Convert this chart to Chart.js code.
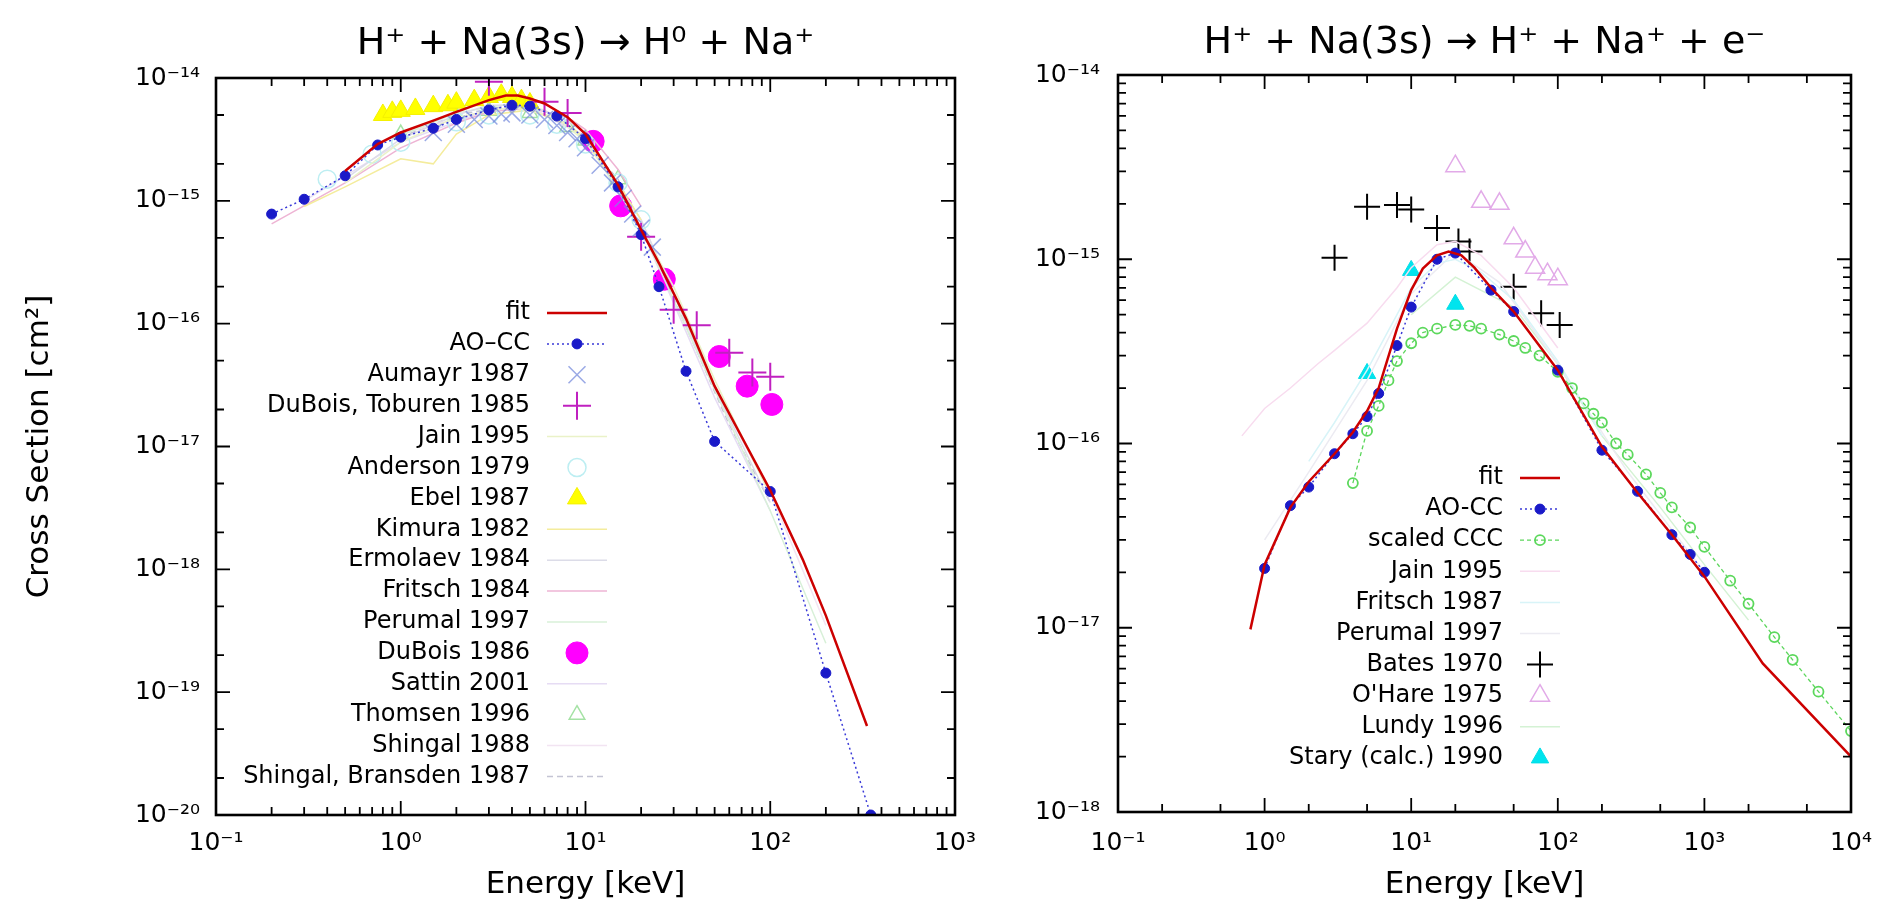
<!DOCTYPE html>
<html>
<head>
<meta charset="utf-8">
<script src="https://cdn.jsdelivr.net/npm/chart.js@4.4.1/dist/chart.umd.min.js"></script>
<style>
  html, body { margin: 0; padding: 0; background: #fff; width: 1885px; height: 904px; overflow: hidden; }
  #left { position: absolute; left: 0; top: 0; }
  #right { position: absolute; left: 1000px; top: 0; }
</style>
</head>
<body>
<canvas id="left" width="1000" height="904"></canvas>
<canvas id="right" width="885" height="904"></canvas>
<script>
const FONT = "'DejaVu Sans', 'Liberation Sans', sans-serif";

// axis ticks
const leftXTicks = [1e-1, 1e0, 1e1, 1e2, 1e3];
const leftYTicks = [1e-20, 1e-19, 1e-18, 1e-17, 1e-16, 1e-15, 1e-14];
const rightXTicks = [1e-1, 1e0, 1e1, 1e2, 1e3, 1e4];
const rightYTicks = [1e-18, 1e-17, 1e-16, 1e-15, 1e-14];
const leftXMinor = [2, 3, 4, 5, 6, 7, 8, 9];
const leftYMinor = [2, 5];
const rightXMinor = [2, 5];
const rightYMinor = [2, 3, 4, 5, 6, 7, 8, 9];

// ---- left panel: H+ + Na(3s) -> H0 + Na+  ([energy keV, cross section cm2])
const fitL = [[0.5,1.75e-15],[0.75,2.9e-15],[1,3.6e-15],[1.5,4.5e-15],[2,5.3e-15],[3,6.6e-15],[3.7,7.2e-15],[4.3,7.2e-15],[5,6.8e-15],[6,6.2e-15],[8,4.8e-15],[10,3.5e-15],[15,1.35e-15],[20,5.8e-16],[25,3.1e-16],[35,1.1e-16],[50,3.1e-17],[70,1.2e-17],[100,4.4e-18],[150,1.2e-18],[200,4.2e-19],[334,5.3e-20]];
const aoccL = [[0.2,7.8e-16],[0.3,1.03e-15],[0.5,1.6e-15],[0.75,2.85e-15],[1,3.3e-15],[1.5,3.9e-15],[2,4.6e-15],[3,5.5e-15],[4,6.0e-15],[5,5.9e-15],[7,4.9e-15],[10,3.2e-15],[15,1.3e-15],[20,5.3e-16],[25,2.0e-16],[35,4.1e-17],[50,1.1e-17],[100,4.3e-18],[200,1.43e-19],[350,1.0e-20]];
const aumayr = [[1.5,3.6e-15],[2,4.2e-15],[2.5,4.6e-15],[3,4.9e-15],[3.5,5.1e-15],[4,5.2e-15],[5,5.0e-15],[6,4.6e-15],[7,4.1e-15],[8,3.6e-15],[9,3.2e-15],[10,2.7e-15],[12,1.95e-15],[14,1.4e-15],[16,1.05e-15],[18,7.8e-16],[20,6.0e-16],[23,4.2e-16]];
const duboisToburen = [[3,9.3e-15],[6,6.4e-15],[8,5.2e-15],[20,5.1e-16],[30,1.3e-16],[40,9.7e-17],[60,5.8e-17],[80,4.0e-17],[100,3.7e-17]];
const jainL = [[0.5,1.4e-15],[1,3.0e-15],[2,4.8e-15],[4,5.8e-15],[7,4.8e-15],[10,3.0e-15],[15,1.3e-15],[20,6.0e-16],[30,2.0e-16],[50,3.5e-17],[100,4.0e-18]];
const anderson = [[0.4,1.5e-15],[0.7,2.4e-15],[1,3.0e-15],[2,4.4e-15],[3,5.0e-15],[5,5.0e-15],[7,4.2e-15],[10,2.9e-15],[15,1.4e-15],[20,7.0e-16]];
const ebel = [[0.8,5.0e-15],[0.9,5.3e-15],[1,5.4e-15],[1.2,5.6e-15],[1.5,5.9e-15],[1.8,6.0e-15],[2,6.3e-15],[2.5,6.6e-15],[3,7.0e-15],[3.5,7.3e-15],[4,7.0e-15],[4.5,6.6e-15],[5,6.2e-15]];
const kimura = [[0.3,9.0e-16],[0.5,1.3e-15],[1,2.2e-15],[1.5,2.0e-15],[2,3.5e-15],[3,5.0e-15],[5,5.5e-15],[8,4.2e-15],[10,3.2e-15],[15,1.4e-15],[20,7.0e-16]];
const ermolaev = [[0.5,1.5e-15],[1,3.2e-15],[2,5.0e-15],[3,6.0e-15],[5,6.0e-15],[8,4.5e-15],[10,3.5e-15],[20,7.0e-16],[50,3.0e-17],[100,3.5e-18]];
const fritsch84 = [[0.2,6.5e-16],[0.5,1.4e-15],[1,2.7e-15],[2,4.3e-15],[3,5.3e-15],[5,5.7e-15],[8,4.8e-15],[10,3.8e-15],[15,1.8e-15],[20,9.0e-16]];
const perumalL = [[1,3.4e-15],[2,5.2e-15],[4,6.2e-15],[6,5.5e-15],[10,3.2e-15],[20,6.0e-16],[40,6.0e-17],[100,3.0e-18],[200,2.5e-19]];
const dubois86 = [[11,3.05e-15],[15.5,9.1e-16],[26.7,2.3e-16],[53,5.4e-17],[75,3.1e-17],[102,2.2e-17]];
const sattin = [[0.3,1.0e-15],[1,3.0e-15],[3,5.5e-15],[5,5.8e-15],[10,3.3e-15],[20,6.0e-16],[50,2.5e-17],[100,3.0e-18]];
const thomsen = [[1,3.5e-15],[2,4.9e-15],[3,5.4e-15],[5,5.2e-15],[8,4.0e-15],[10,3.1e-15],[15,1.5e-15]];
const shingal88 = [[1,3.5e-15],[3,5.5e-15],[5,5.8e-15],[10,3.4e-15],[20,7.0e-16],[50,3.0e-17],[100,4.2e-18],[200,3.5e-19]];
const shingalBransden = [[1,3.3e-15],[2,5.0e-15],[4,6.0e-15],[8,4.3e-15],[15,1.5e-15],[30,1.6e-16],[60,1.5e-17],[100,3.5e-18]];

// ---- right panel: H+ + Na(3s) -> H+ + Na+ + e-
const fitR = [[0.8,9.8e-18],[0.9,1.5e-17],[1,2.2e-17],[1.5,4.5e-17],[2,6.2e-17],[3,8.8e-17],[4,1.15e-16],[5,1.5e-16],[6,2.0e-16],[8,4.2e-16],[10,6.8e-16],[12,8.9e-16],[15,1.05e-15],[18,1.1e-15],[22,1.05e-15],[27,9.0e-16],[35,7.0e-16],[50,5.2e-16],[100,2.5e-16],[200,9.6e-17],[350,5.4e-17],[600,3.2e-17],[1000,1.9e-17],[2500,6.4e-18],[10000,2.0e-18]];
const aoccR = [[1,2.1e-17],[1.5,4.6e-17],[2,5.8e-17],[3,8.8e-17],[4,1.13e-16],[5,1.4e-16],[6,1.87e-16],[8,3.4e-16],[10,5.5e-16],[15,1.0e-15],[20,1.08e-15],[35,6.8e-16],[50,5.2e-16],[100,2.5e-16],[200,9.2e-17],[350,5.5e-17],[600,3.2e-17],[800,2.5e-17],[1000,2.0e-17]];
const scaledCCC = [[4,6.1e-17],[5,1.17e-16],[6,1.6e-16],[7,2.2e-16],[8,2.8e-16],[10,3.5e-16],[12,4.0e-16],[15,4.2e-16],[20,4.4e-16],[25,4.35e-16],[30,4.2e-16],[40,3.9e-16],[50,3.6e-16],[60,3.3e-16],[75,3.0e-16],[100,2.45e-16],[125,2.0e-16],[150,1.65e-16],[175,1.45e-16],[200,1.3e-16],[250,1.0e-16],[300,8.7e-17],[400,6.8e-17],[500,5.4e-17],[600,4.5e-17],[800,3.5e-17],[1000,2.75e-17],[1500,1.8e-17],[2000,1.35e-17],[3000,8.9e-18],[4000,6.7e-18],[6000,4.5e-18],[10000,2.75e-18]];
const jainR = [[0.7,1.1e-16],[1,1.55e-16],[1.5,2.0e-16],[2.3,2.7e-16],[3,3.2e-16],[5,4.5e-16],[8,7.0e-16],[10,9.0e-16],[15,1.2e-15],[20,1.25e-15],[30,1.05e-15],[50,7.0e-16],[100,3.3e-16]];
const fritsch87 = [[2,8.0e-17],[3,1.3e-16],[5,2.5e-16],[8,5.0e-16],[10,7.0e-16],[15,9.5e-16],[20,1.0e-15],[30,8.5e-16],[50,6.0e-16],[100,2.8e-16],[200,1.1e-16]];
const perumalR = [[1,3.0e-17],[2,7.0e-17],[5,2.2e-16],[10,6.5e-16],[20,1.1e-15],[40,7.5e-16],[100,2.7e-16],[300,7.0e-17],[1000,2.0e-17]];
const bates = [[3,1.02e-15],[5,1.93e-15],[8,1.97e-15],[10,1.86e-15],[15,1.48e-15],[21,1.25e-15],[25,1.1e-15],[50,7.1e-16],[77,5.1e-16],[103,4.4e-16]];
const ohare = [[20,3.2e-15],[30,2.05e-15],[40,2.0e-15],[50,1.3e-15],[60,1.1e-15],[70,9.0e-16],[85,8.3e-16],[100,7.8e-16]];
const lundy = [[10,5.0e-16],[20,8.0e-16],[50,5.5e-16],[100,2.7e-16],[200,1.1e-16],[500,4.5e-17],[1000,2.2e-17],[2000,1.1e-17]];
const stary = [[5,2.4e-16],[10,8.7e-16],[20,5.7e-16]];

const toXY = arr => arr.map(([x, y]) => ({x, y}));

function lineDs(label, data, color, width, dash) {
  return {label, data: toXY(data), showLine: true, borderColor: color, backgroundColor: color,
          borderWidth: width, borderDash: dash || [], pointRadius: 0, pointHoverRadius: 0, tension: 0};
}
function markDs(label, data, style, r, stroke, fill, bw) {
  return {label, data: toXY(data), showLine: false, pointStyle: style, pointRadius: r, pointHoverRadius: r,
          pointBorderColor: stroke, pointBackgroundColor: fill, pointBorderWidth: bw,
          borderColor: stroke, backgroundColor: fill};
}
function withPoints(ds, style, r, stroke, fill, bw) {
  return Object.assign(ds, {pointStyle: style, pointRadius: r, pointHoverRadius: r,
          pointBorderColor: stroke, pointBackgroundColor: fill, pointBorderWidth: bw});
}

const NONE = 'rgba(0,0,0,0)';
const RED = '#cc0000';
const BLUE = '#1a1ac8';

const leftSets = [
  lineDs('fit', fitL, RED, 2.5),
  withPoints(lineDs('AO\u2013CC', aoccL, '#3a3ad8', 1.5, [2, 3]), 'circle', 5, BLUE, BLUE, 1),
  markDs('Aumayr 1987', aumayr, 'crossRot', 12, 'rgba(120,140,220,0.75)', NONE, 1.5),
  markDs('DuBois, Toburen 1985', duboisToburen, 'cross', 14, '#c020c0', NONE, 2),
  lineDs('Jain 1995', jainL, '#eaf2c8', 1.5),
  markDs('Anderson 1979', anderson, 'circle', 9, '#bdeef2', NONE, 1.5),
  markDs('Ebel 1987', ebel, 'triangle', 11, '#f4f000', '#ffff00', 1),
  lineDs('Kimura 1982', kimura, '#f4ec9c', 1.5),
  lineDs('Ermolaev 1984', ermolaev, '#dcdce8', 1.5),
  lineDs('Fritsch 1984', fritsch84, '#eeb4d4', 1.5),
  lineDs('Perumal 1997', perumalL, '#d8f0d8', 1.5),
  markDs('DuBois 1986', dubois86, 'circle', 11, '#ff00ff', '#ff00ff', 1),
  lineDs('Sattin 2001', sattin, '#e6dcf4', 1.5),
  markDs('Thomsen 1996', thomsen, 'triangle', 9, '#a4e2a4', NONE, 1.5),
  lineDs('Shingal 1988', shingal88, '#f2e4f2', 1.5),
  lineDs('Shingal, Bransden 1987', shingalBransden, '#c4c4d4', 1.5, [6, 4])
];

const rightSets = [
  lineDs('fit', fitR, RED, 2.5),
  withPoints(lineDs('AO-CC', aoccR, '#3a3ad8', 1.5, [2, 3]), 'circle', 5, BLUE, BLUE, 1),
  withPoints(lineDs('scaled CCC', scaledCCC, '#5cd65c', 1.3, [4, 3]), 'circle', 5, '#5cd85c', NONE, 1.8),
  lineDs('Jain 1995', jainR, '#f8dcef', 1.5),
  lineDs('Fritsch 1987', fritsch87, '#d8f4f8', 1.5),
  lineDs('Perumal 1997', perumalR, '#ecebf2', 1.5),
  markDs('Bates 1970', bates, 'cross', 13, '#000000', NONE, 2),
  markDs("O'Hare 1975", ohare, 'triangle', 11, '#e2aae8', NONE, 1.5),
  lineDs('Lundy 1996', lundy, '#d4f2d4', 1.5),
  markDs('Stary (calc.) 1990', stary, 'triangle', 10, '#00dde6', '#00e4ee', 1)
];

const SUP = {'-': '\u207B', '0': '\u2070', '1': '\u00B9', '2': '\u00B2', '3': '\u00B3', '4': '\u2074',
             '5': '\u2075', '6': '\u2076', '7': '\u2077', '8': '\u2078', '9': '\u2079'};
function powLabel(v) {
  const e = Math.round(Math.log10(v));
  return '10' + String(e).split('').map(c => SUP[c]).join('');
}

function logAxis(pos, min, max, ticks, size, pad, title) {
  return {
    type: 'logarithmic', position: pos, min, max,
    grid: {display: false, drawTicks: false},
    border: {display: false},
    afterBuildTicks: s => { s.ticks = ticks.map(v => ({value: v})); },
    afterFit: s => {
      if (s.isHorizontal()) { s.height = size; s.paddingLeft = 0; s.paddingRight = 0; }
      else { s.width = size; s.paddingTop = 0; s.paddingBottom = 0; }
    },
    ticks: {autoSkip: false, maxRotation: 0, minRotation: 0, padding: pad, color: '#000',
            font: {family: FONT, size: 25}, callback: v => powLabel(v)},
    title: title || {display: false}
  };
}

function drawMarker(ctx, style, x, y, r, stroke, fill, bw) {
  ctx.save();
  ctx.lineWidth = bw; ctx.strokeStyle = stroke; ctx.fillStyle = fill;
  ctx.beginPath();
  if (style === 'circle') {
    ctx.arc(x, y, r, 0, Math.PI * 2);
    ctx.fill(); ctx.stroke();
  } else if (style === 'triangle') {
    let a = 0;
    ctx.moveTo(x + Math.sin(a) * r, y - Math.cos(a) * r);
    a += Math.PI * 2 / 3; ctx.lineTo(x + Math.sin(a) * r, y - Math.cos(a) * r);
    a += Math.PI * 2 / 3; ctx.lineTo(x + Math.sin(a) * r, y - Math.cos(a) * r);
    ctx.closePath(); ctx.fill(); ctx.stroke();
  } else if (style === 'cross') {
    ctx.moveTo(x - r, y); ctx.lineTo(x + r, y);
    ctx.moveTo(x, y - r); ctx.lineTo(x, y + r);
    ctx.stroke();
  } else if (style === 'crossRot') {
    const d = r * Math.SQRT1_2;
    ctx.moveTo(x - d, y - d); ctx.lineTo(x + d, y + d);
    ctx.moveTo(x + d, y - d); ctx.lineTo(x - d, y + d);
    ctx.stroke();
  }
  ctx.restore();
}

// gnuplot style border with inward ticks on all four sides
const gnuFrame = {
  id: 'gnuFrame',
  afterDatasetsDraw(chart, args, opts) {
    const {ctx, chartArea: a} = chart;
    const xs = chart.scales.x, ys = chart.scales.y;
    const list = (majors, minors, max) => {
      const out = [];
      majors.forEach(v => {
        out.push([v, 14]);
        minors.forEach(m => { if (v * m < max) out.push([v * m, 8]); });
      });
      return out;
    };
    ctx.save();
    ctx.strokeStyle = '#000';
    ctx.lineWidth = 1.8;
    ctx.beginPath();
    list(opts.xTicks, opts.xMinor, xs.max).forEach(([v, len]) => {
      const px = xs.getPixelForValue(v);
      ctx.moveTo(px, a.bottom); ctx.lineTo(px, a.bottom - len);
      ctx.moveTo(px, a.top); ctx.lineTo(px, a.top + len);
    });
    list(opts.yTicks, opts.yMinor, ys.max).forEach(([v, len]) => {
      const py = ys.getPixelForValue(v);
      ctx.moveTo(a.left, py); ctx.lineTo(a.left + len, py);
      ctx.moveTo(a.right, py); ctx.lineTo(a.right - len, py);
    });
    ctx.stroke();
    ctx.lineWidth = 2.6;
    ctx.strokeRect(a.left, a.top, a.right - a.left, a.bottom - a.top);
    ctx.restore();
  }
};

// key: right-aligned text with the sample to its right
const gnuKey = {
  id: 'gnuKey',
  afterDraw(chart, args, opts) {
    const ctx = chart.ctx;
    ctx.save();
    ctx.font = '24px ' + FONT;
    ctx.textAlign = 'right';
    ctx.textBaseline = 'middle';
    chart.data.datasets.forEach((ds, i) => {
      const y = opts.top + i * opts.row;
      ctx.fillStyle = '#000';
      ctx.fillText(ds.label, opts.textRight, y);
      if (ds.showLine) {
        ctx.save();
        ctx.strokeStyle = ds.borderColor;
        ctx.lineWidth = ds.borderWidth;
        ctx.setLineDash(ds.borderDash || []);
        ctx.beginPath();
        ctx.moveTo(opts.cx - opts.half, y); ctx.lineTo(opts.cx + opts.half, y);
        ctx.stroke();
        ctx.restore();
      }
      if (ds.pointRadius > 0) {
        drawMarker(ctx, ds.pointStyle, opts.cx, y, ds.pointRadius, ds.pointBorderColor, ds.pointBackgroundColor, ds.pointBorderWidth);
      }
    });
    ctx.restore();
  }
};

function titleOpts(text, top, bottom) {
  return {display: true, text, fullSize: false, color: '#000',
          font: {family: FONT, size: 38, weight: 'normal', lineHeight: 1.2},
          padding: {top, bottom}};
}
const energyTitle = {display: true, text: 'Energy [keV]', color: '#000',
                     font: {family: FONT, size: 31, weight: 'normal', lineHeight: 1.2}, padding: {top: 0, bottom: 0}};

new Chart(document.getElementById('left'), {
  type: 'scatter',
  data: {datasets: leftSets},
  options: {
    responsive: false, animation: false, events: [],
    layout: {padding: {left: 0, right: 45, top: 0, bottom: 0}},
    scales: {
      x: logAxis('bottom', 0.1, 1000, leftXTicks, 89, 13, energyTitle),
      y: logAxis('left', 1e-20, 1e-14, leftYTicks, 216, 16,
        {display: true, text: 'Cross Section [cm\u00B2]', color: '#000',
         font: {family: FONT, size: 31, weight: 'normal', lineHeight: 1.2}, padding: {top: 21, bottom: 0}})
    },
    plugins: {
      legend: {display: false},
      tooltip: {enabled: false},
      title: titleOpts('H\u207A + Na(3s) \u2192 H\u2070 + Na\u207A', 21.2, 11.2),
      gnuFrame: {xTicks: leftXTicks, xMinor: leftXMinor, yTicks: leftYTicks, yMinor: leftYMinor},
      gnuKey: {textRight: 530, top: 313, row: 30.9, cx: 577, half: 30}
    }
  },
  plugins: [gnuFrame, gnuKey]
});

new Chart(document.getElementById('right'), {
  type: 'scatter',
  data: {datasets: rightSets},
  options: {
    responsive: false, animation: false, events: [],
    layout: {padding: {left: 0, right: 34, top: 0, bottom: 0}},
    scales: {
      x: logAxis('bottom', 0.1, 10000, rightXTicks, 92, 16, energyTitle),
      y: logAxis('left', 1e-18, 1e-14, rightYTicks, 118, 18, null)
    },
    plugins: {
      legend: {display: false},
      tooltip: {enabled: false},
      title: titleOpts('H\u207A + Na(3s) \u2192 H\u207A + Na\u207A + e\u207B', 20.2, 9.2),
      gnuFrame: {xTicks: rightXTicks, xMinor: rightXMinor, yTicks: rightYTicks, yMinor: rightYMinor},
      gnuKey: {textRight: 503, top: 478, row: 31.1, cx: 540, half: 20}
    }
  },
  plugins: [gnuFrame, gnuKey]
});
</script>
</body>
</html>
